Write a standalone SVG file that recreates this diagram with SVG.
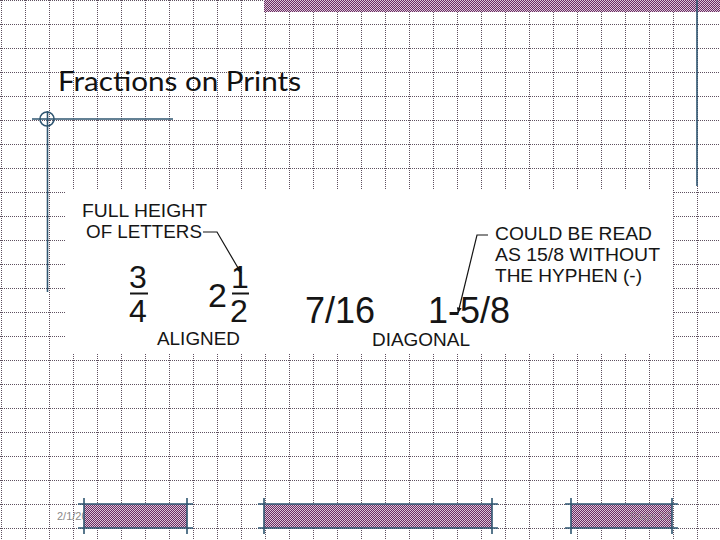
<svg xmlns="http://www.w3.org/2000/svg" width="720" height="540" viewBox="0 0 720 540">
  <defs>
    <pattern id="hatch" x="0" y="0" width="2" height="2" patternUnits="userSpaceOnUse">
      <rect width="2" height="2" fill="#6a2c62"/>
      <rect x="0" y="0" width="1" height="1" fill="#dcc6d8"/>
      <rect x="1" y="1" width="1" height="1" fill="#dcc6d8"/>
    </pattern>
    <marker id="arrow" viewBox="0 0 10 10" refX="9" refY="5" markerWidth="9" markerHeight="6" markerUnits="userSpaceOnUse" orient="auto">
      <path d="M0,1 L10,5 L0,9 Z" fill="#111"/>
    </marker>
    <style>
      .grid { stroke: #5f5060; stroke-width: 1; stroke-dasharray: 1 1; fill: none; }
      .lbl { font-family: "Liberation Sans", Arial, sans-serif; font-size: 18.5px; fill: #151515; }
      .num { font-family: "Liberation Sans", Arial, sans-serif; fill: #151515; }
      .teal { stroke: #2f5671; stroke-width: 1.6; fill: none; }
      .lead { stroke: #151515; stroke-width: 1.2; fill: none; }
      .foot { font-family: "Liberation Sans", Arial, sans-serif; font-size: 11px; fill: #8a8a8a; }
    </style>
  </defs>

  <g id="background">
    <rect width="720" height="540" fill="#ffffff"/>
    <path class="grid" d="M1.5,0V540 M25.5,0V540 M49.5,0V540 M73.5,0V540 M97.5,0V540 M121.5,0V540 M145.5,0V540 M169.5,0V540 M193.5,0V540 M217.5,0V540 M241.5,0V540 M265.5,0V540 M289.5,0V540 M313.5,0V540 M337.5,0V540 M361.5,0V540 M385.5,0V540 M409.5,0V540 M433.5,0V540 M457.5,0V540 M481.5,0V540 M505.5,0V540 M529.5,0V540 M553.5,0V540 M577.5,0V540 M601.5,0V540 M625.5,0V540 M649.5,0V540 M673.5,0V540 M697.5,0V540
      M0,0.5H720 M0,24.5H720 M0,48.5H720 M0,72.5H720 M0,96.5H720 M0,120.5H720 M0,144.5H720 M0,168.5H720 M0,192.5H720 M0,216.5H720 M0,240.5H720 M0,264.5H720 M0,288.5H720 M0,312.5H720 M0,336.5H720 M0,360.5H720 M0,384.5H720 M0,408.5H720 M0,432.5H720 M0,456.5H720 M0,480.5H720 M0,504.5H720 M0,528.5H720"/>
    <rect x="264" y="0" width="456" height="12" fill="url(#hatch)"/>
    <line class="teal" x1="697" y1="0" x2="697" y2="186"/>
    <line class="teal" x1="32" y1="119" x2="173" y2="119"/>
    <line class="teal" x1="47.5" y1="111" x2="47.5" y2="292"/>
    <circle class="teal" cx="47" cy="119" r="7" stroke-width="1.2"/>
  </g>

  <g id="title">
    <text x="58" y="91" font-family="Lato, 'Open Sans', sans-serif" font-size="27" fill="#111" textLength="243" lengthAdjust="spacingAndGlyphs">Fractions on Prints</text>
  </g>

  <g id="panel">
    <rect x="66" y="190" width="607" height="163" fill="#ffffff"/>
  </g>

  <g id="node-full-height">
    <text class="lbl" x="82" y="217" textLength="125" lengthAdjust="spacingAndGlyphs">FULL HEIGHT</text>
    <text class="lbl" x="86" y="238" textLength="116" lengthAdjust="spacingAndGlyphs">OF LETTERS</text>
  </g>

  <g id="node-three-quarters">
    <text class="num" x="129" y="288" font-size="32">3</text>
    <line x1="130" y1="293.5" x2="148" y2="293.5" stroke="#151515" stroke-width="2"/>
    <text class="num" x="129" y="322" font-size="32">4</text>
  </g>

  <g id="node-two-and-half">
    <text class="num" x="208" y="307" font-size="34">2</text>
    <text class="num" x="231" y="288" font-size="32">1</text>
    <line x1="232" y1="293.5" x2="249" y2="293.5" stroke="#151515" stroke-width="2"/>
    <text class="num" x="230" y="322" font-size="32">2</text>
  </g>

  <g id="node-aligned">
    <text class="lbl" x="157" y="345" textLength="83" lengthAdjust="spacingAndGlyphs">ALIGNED</text>
  </g>

  <g id="node-seven-sixteenths">
    <text class="num" x="305" y="323" font-size="36">7/16</text>
  </g>

  <g id="node-one-five-eighths">
    <text class="num" x="428" y="323" font-size="36">1-5/8</text>
  </g>

  <g id="node-diagonal">
    <text class="lbl" x="372" y="346" textLength="98" lengthAdjust="spacingAndGlyphs">DIAGONAL</text>
  </g>

  <g id="node-could-be-read">
    <text class="lbl" x="495" y="240" textLength="157" lengthAdjust="spacingAndGlyphs">COULD BE READ</text>
    <text class="lbl" x="495" y="261" textLength="165" lengthAdjust="spacingAndGlyphs">AS 15/8 WITHOUT</text>
    <text class="lbl" x="495" y="282" textLength="147" lengthAdjust="spacingAndGlyphs">THE HYPHEN (-)</text>
  </g>

  <g id="connectors">
    <path class="lead" d="M203,232 H217 L241,273" marker-end="url(#arrow)"/>
    <path class="lead" d="M488,235 H477 L458,313" marker-end="url(#arrow)"/>
  </g>

  <g id="footer">
    <text class="foot" x="57" y="520">2/1/20</text>
    <rect x="84" y="504" width="103" height="24" fill="url(#hatch)"/>
    <path class="teal" d="M84,498 V534 M187,498 V534 M78,504 H193 M78,528 H193"/>
    <rect x="264" y="504" width="228" height="24" fill="url(#hatch)"/>
    <path class="teal" d="M264,498 V534 M492,498 V534 M258,504 H498 M258,528 H498"/>
    <rect x="571" y="504" width="101" height="24" fill="url(#hatch)"/>
    <text class="foot" x="630" y="520" fill-opacity="0.6">Page 32</text>
    <path class="teal" d="M571,498 V534 M672,498 V534 M565,504 H678 M565,528 H678"/>
  </g>
</svg>
